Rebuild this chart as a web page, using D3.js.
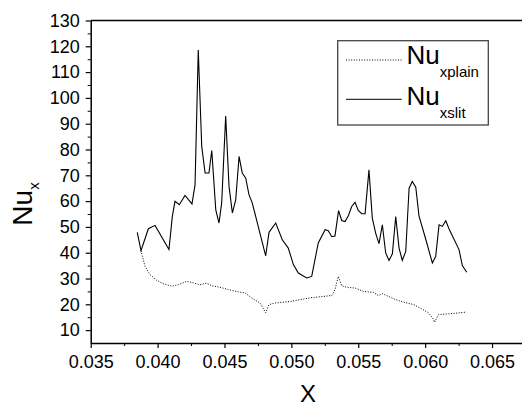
<!DOCTYPE html>
<html>
<head>
<meta charset="utf-8">
<script src="https://cdn.jsdelivr.net/npm/d3@7/dist/d3.min.js"></script>
<style>
  body { margin: 0; background: #fff; }
  svg { display: block; }
  text { font-family: "Liberation Sans", Arial, sans-serif; fill: #000; }
</style>
</head>
<body>
<div id="chart"></div>
<script>
// Nu_x along the plain plate (dotted curve)
const xPlain = [0.03876, 0.03906, 0.03943, 0.03993, 0.04043, 0.04106, 0.04155, 0.04218, 0.04267,
  0.04317, 0.04367, 0.04405, 0.04467, 0.04529, 0.04594, 0.04654, 0.04704, 0.04766, 0.04808,
  0.04833, 0.04878, 0.04990, 0.05140, 0.05302, 0.05326, 0.05351, 0.05376, 0.05414, 0.05476,
  0.05538, 0.05613, 0.05650, 0.05681, 0.05725, 0.05780, 0.05841, 0.05912, 0.05962, 0.06025,
  0.06064, 0.06070, 0.06100, 0.06201, 0.06310];
const nuPlain = [40.8, 34.7, 31.5, 29.3, 28.0, 27.0, 27.6, 28.9, 28.3,
  27.6, 28.2, 27.2, 26.6, 25.7, 24.9, 24.4, 22.4, 20.5, 16.7,
  19.9, 20.5, 21.1, 22.5, 23.4, 25.7, 30.8, 27.2, 26.6, 26.3,
  25.0, 24.6, 23.4, 24.1, 23.1, 21.8, 20.8, 19.9, 18.6, 16.7,
  14.1, 13.0, 16.0, 16.4, 17.0];

// Nu_x along the slit plate (solid curve)
const xSlit = [0.03848, 0.03876, 0.03931, 0.03981, 0.04085, 0.04110, 0.04130, 0.04162, 0.04205,
  0.04257, 0.04280, 0.04304, 0.04330, 0.04355, 0.04384, 0.04405, 0.04435, 0.04459, 0.04479,
  0.04509, 0.04534, 0.04559, 0.04584, 0.04609, 0.04633, 0.04659, 0.04683, 0.04708, 0.04808,
  0.04833, 0.04883, 0.04932, 0.04977, 0.05015, 0.05052, 0.05115, 0.05152, 0.05201, 0.05252,
  0.05276, 0.05302, 0.05326, 0.05353, 0.05376, 0.05401, 0.05426, 0.05451, 0.05476, 0.05500,
  0.05526, 0.05551, 0.05580, 0.05605, 0.05631, 0.05655, 0.05680, 0.05705, 0.05730, 0.05755,
  0.05780, 0.05805, 0.05829, 0.05855, 0.05880, 0.05904, 0.05930, 0.05954, 0.06004, 0.06054,
  0.06079, 0.06104, 0.06129, 0.06154, 0.06179, 0.06253, 0.06278, 0.06311];
const nuSlit = [47.9, 40.8, 49.3, 50.6, 41.2, 54.0, 59.9, 58.6, 62.2,
  58.9, 66.3, 118.6, 81.2, 70.9, 70.9, 79.6, 56.6, 51.5, 59.2,
  93.0, 65.7, 55.4, 60.5, 77.3, 70.9, 68.9, 62.5, 59.2, 38.8,
  47.9, 51.5, 45.0, 41.8, 35.4, 32.1, 30.2, 30.8, 43.8, 48.9,
  48.5, 46.2, 46.5, 56.3, 52.5, 52.1, 54.3, 57.9, 59.5, 56.4,
  55.1, 55.1, 72.1, 53.4, 47.4, 43.5, 50.8, 39.9, 37.0, 39.6,
  54.0, 41.8, 37.0, 40.5, 65.0, 67.6, 65.4, 54.3, 45.3, 36.0,
  38.6, 50.8, 50.2, 52.4, 49.2, 41.2, 35.0, 32.4];

const xTicks = [0.035, 0.040, 0.045, 0.050, 0.055, 0.060, 0.065];
const xMinor = [0.0375, 0.0425, 0.0475, 0.0525, 0.0575, 0.0625];
const yTicks = [10, 20, 30, 40, 50, 60, 70, 80, 90, 100, 110, 120, 130];
const yMinor = [15, 25, 35, 45, 55, 65, 75, 85, 95, 105, 115, 125];

const width = 522, height = 407;
const plotLeft = 90.7, plotTop = 20.5, plotBottom = 343;

const svg = d3.select("#chart").append("svg")
  .attr("width", width)
  .attr("height", height);

const x = d3.scaleLinear().domain([0.035, 0.06724]).range([plotLeft, width]);
const y = d3.scaleLinear().domain([5, 130]).range([plotBottom, plotTop]);

// minor ticks first so the axis line draws over them
svg.append("g")
  .attr("transform", `translate(0,${plotBottom})`)
  .call(d3.axisBottom(x).tickValues(xMinor).tickSize(3).tickFormat(""))
  .call(g => g.select(".domain").remove());
svg.append("g")
  .attr("transform", `translate(${plotLeft},0)`)
  .call(d3.axisLeft(y).tickValues(yMinor).tickSize(3).tickFormat(""))
  .call(g => g.select(".domain").remove());

const xAxis = svg.append("g")
  .attr("transform", `translate(0,${plotBottom})`)
  .call(d3.axisBottom(x).tickValues(xTicks).tickSize(5).tickSizeOuter(0)
    .tickPadding(7).tickFormat(d3.format(".3f")));

const yAxis = svg.append("g")
  .attr("transform", `translate(${plotLeft},0)`)
  .call(d3.axisLeft(y).tickValues(yTicks).tickSize(5).tickSizeOuter(0).tickPadding(6));

[xAxis, yAxis].forEach(g => {
  g.selectAll("text").style("font-size", "18px").attr("fill", "#000");
  g.selectAll("line").attr("stroke-width", 1.2);
  g.select(".domain").attr("stroke-width", 1.5);
});

// top frame line
svg.append("line")
  .attr("x1", plotLeft).attr("x2", width)
  .attr("y1", y(130)).attr("y2", y(130))
  .attr("stroke", "#000").attr("stroke-width", 1.5);

const line = (xs, ys) => d3.line()
  .x((d, i) => x(xs[i]))
  .y(d => y(d))(ys);

svg.append("path")
  .attr("d", line(xPlain, nuPlain))
  .attr("fill", "none")
  .attr("stroke", "#000")
  .attr("stroke-width", 1)
  .attr("stroke-dasharray", "1,1.6");

svg.append("path")
  .attr("d", line(xSlit, nuSlit))
  .attr("fill", "none")
  .attr("stroke", "#000")
  .attr("stroke-width", 1.1);

// axis titles
const yTitle = svg.append("text")
  .attr("transform", "translate(32,204) rotate(-90)")
  .attr("text-anchor", "middle")
  .style("font-size", "28px");
yTitle.append("tspan").text("Nu");
yTitle.append("tspan").attr("dy", 7).style("font-size", "15px").text("x");

svg.append("text")
  .attr("x", 308).attr("y", 402)
  .attr("text-anchor", "middle")
  .style("font-size", "24px")
  .text("X");

// legend
const legend = svg.append("g");
legend.append("rect")
  .attr("x", 337.7).attr("y", 40.7)
  .attr("width", 150.6).attr("height", 84.3)
  .attr("fill", "#fff")
  .attr("stroke", "#444")
  .attr("stroke-width", 1.3);

const legendItems = [
  { name: "xplain", dash: "1,1.6", y: 60, base: 64 },
  { name: "xslit", dash: null, y: 99.3, base: 105 }
];
legendItems.forEach(d => {
  legend.append("line")
    .attr("x1", 346).attr("x2", 401.7)
    .attr("y1", d.y).attr("y2", d.y)
    .attr("stroke", "#000")
    .attr("stroke-width", 1)
    .attr("stroke-dasharray", d.dash);
  const t = legend.append("text")
    .attr("x", 406.5).attr("y", d.base)
    .style("font-size", "26px");
  t.append("tspan").text("Nu");
  t.append("tspan").attr("dy", 13).style("font-size", "15px").text(d.name);
});
</script>
</body>
</html>
